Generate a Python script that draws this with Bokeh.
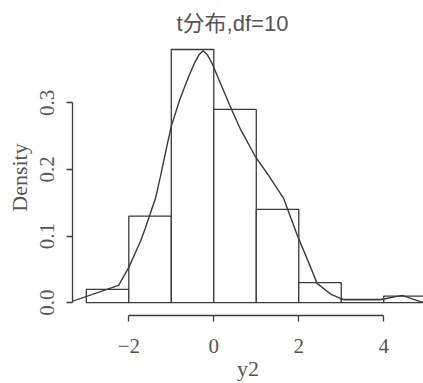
from bokeh.plotting import figure
from bokeh.models import FixedTicker, ColumnDataSource
from bokeh.embed import file_html
from bokeh.resources import INLINE

# histogram bins (Density)
bin_left = [-3, -2, -1, 0, 1, 2, 3, 4]
bin_right = [-2, -1, 0, 1, 2, 3, 4, 5]
density = [0.02, 0.13, 0.38, 0.29, 0.14, 0.03, 0.005, 0.01]

# kernel density curve
kde_x = [-3.36, -2.24, -2.0, -1.72, -1.61, -1.37, -1.25, -1.1, -1.0, -0.8, -0.6, -0.45,
         -0.35, -0.25, -0.15, -0.04, 0.39, 0.63, 0.98, 1.3, 1.64, 1.96, 2.28, 2.43,
         2.75, 3.05, 3.92, 4.43, 4.86, 4.95]
kde_y = [0.0015, 0.026, 0.053, 0.093, 0.112, 0.157, 0.191, 0.236, 0.265, 0.305, 0.338, 0.36,
         0.372, 0.378, 0.372, 0.359, 0.294, 0.26, 0.219, 0.19, 0.157, 0.102, 0.053, 0.029,
         0.013, 0.0045, 0.0045, 0.011, 0.0015, 0.0005]

x_ticks = [-2, 0, 2, 4]
y_ticks = [0.0, 0.1, 0.2, 0.3]

LINE = "#3a3a3a"
TEXT = "#555555"

p = figure(width=423, height=383, output_backend="svg", toolbar_location=None,
           x_range=(-3.325, 4.935), y_range=(-0.0192, 0.395),
           min_border_left=72, min_border_right=0, min_border_top=39, min_border_bottom=0)

p.title.text = "t分布,df=10"
p.title.text_font = "Liberation Sans, Noto Sans CJK SC"
p.title.text_font_size = "22px"
p.title.text_font_style = "normal"
p.title.text_color = TEXT
p.title.align = "left"
p.title.offset = 104
p.title.standoff = 8

p.outline_line_color = None
p.xgrid.grid_line_color = None
p.ygrid.grid_line_color = None
p.background_fill_color = "white"
p.border_fill_color = "white"

src = ColumnDataSource(dict(left=bin_left, right=bin_right, top=density))
p.quad(left="left", right="right", top="top", bottom=0, source=src,
       fill_color="white", line_color=LINE, line_width=1.3)
p.line(kde_x, kde_y, line_color=LINE, line_width=1.4)

for ax in (p.xaxis[0], p.yaxis[0]):
    ax.axis_line_color = LINE
    ax.axis_line_width = 1.3
    ax.major_tick_line_color = LINE
    ax.major_tick_line_width = 1.3
    ax.major_tick_out = 6
    ax.major_tick_in = 0
    ax.minor_tick_line_color = None
    ax.major_label_text_font = "Liberation Serif"
    ax.major_label_text_font_size = "21px"
    ax.major_label_text_color = TEXT
    ax.axis_label_text_font = "Liberation Serif"
    ax.axis_label_text_font_size = "22px"
    ax.axis_label_text_font_style = "normal"
    ax.axis_label_text_color = TEXT

p.xaxis[0].ticker = FixedTicker(ticks=x_ticks)
p.xaxis[0].bounds = (-2, 4)
p.xaxis[0].axis_label = "y2"
p.xaxis[0].major_label_standoff = 17
p.xaxis[0].axis_label_standoff = 0

p.yaxis[0].ticker = FixedTicker(ticks=y_ticks)
p.yaxis[0].bounds = (0, 0.3)
p.yaxis[0].axis_label = "Density"
p.yaxis[0].major_label_orientation = "vertical"
p.yaxis[0].major_label_overrides = {0: "0.0", 0.1: "0.1", 0.2: "0.2", 0.3: "0.3"}
p.yaxis[0].major_label_standoff = 12
p.yaxis[0].axis_label_standoff = 6

open("out.html", "w").write(file_html(p, INLINE))
